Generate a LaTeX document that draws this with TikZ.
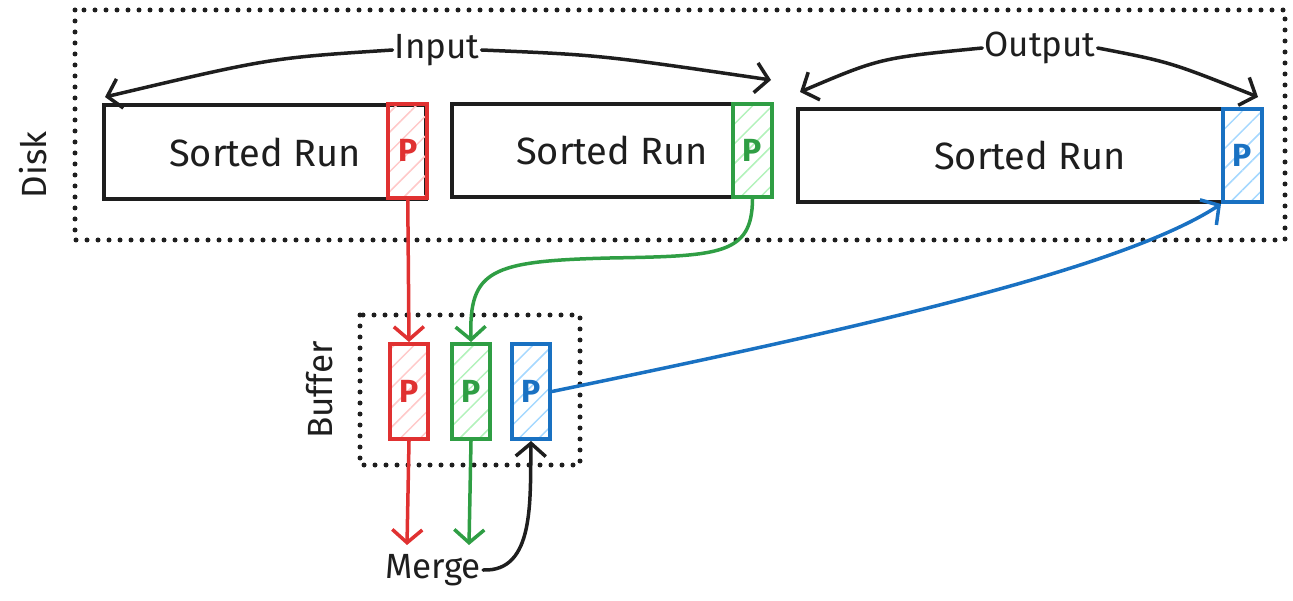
\documentclass[tikz,border=0pt]{standalone}
\usepackage{fontspec}
\setmainfont{Fira Sans}
\usetikzlibrary{arrows.meta, patterns.meta}

\definecolor{schwarz}{HTML}{1E1E1E}
\definecolor{rot}{HTML}{E03131}
\definecolor{rothell}{HTML}{FFC9C9}
\definecolor{gruen}{HTML}{2F9E44}
\definecolor{gruenhell}{HTML}{B2F2BB}
\definecolor{blau}{HTML}{1971C2}
\definecolor{blauhell}{HTML}{A5D8FF}

\tikzset{
	lauf/.style = {draw = schwarz, line width = 4pt, inner sep = 0pt, text = schwarz, font = \fontsize{38pt}{40pt}\selectfont},
	seite/.style 2 args = {draw = #1, line width = 4pt, inner sep = 0pt, minimum width = 39pt, minimum height = 94pt, text = #1, font = \fontsize{32pt}{34pt}\selectfont\bfseries, pattern = {Lines[angle = 45, distance = 14pt, line width = 1.5pt]}, pattern color = #2},
	pfeil/.style = {-{Straight Barb[length = 13pt, width = 30pt]}, line width = 3.5pt, line cap = round},
	rahmen/.style = {draw = schwarz, line width = 5pt, dash pattern = on 0pt off 11pt, line cap = round},
	beschriftung/.style = {text = schwarz, inner sep = 2pt, font = \fontsize{35pt}{38pt}\selectfont}
}

\begin{document}
\begin{tikzpicture}[yscale = -1]
	\useasboundingbox (0pt, 0pt) rectangle (1293pt, 601pt);

	% Platte:
	\draw [rahmen] (75pt, 10pt) rectangle (1285pt, 240pt);
	\node [beschriftung, rotate = 90] (disk) at (33pt, 165pt) {Disk};

	\node [lauf, minimum width = 322pt, minimum height = 94pt, anchor = north west] (run1) at (102pt, 103pt) {Sorted Run};
	\node [lauf, minimum width = 320pt, minimum height = 93pt, anchor = north west] (run2) at (450pt, 102pt) {Sorted Run};
	\node [lauf, minimum width = 464pt, minimum height = 93pt, anchor = north west] (run3) at (796pt, 107pt) {Sorted Run};

	\node [seite = {rot}{rothell}, anchor = north east] (page1) at (run1.north east) {P};
	\node [seite = {gruen}{gruenhell}, minimum height = 93pt, anchor = north east] (page2) at (run2.north east) {P};
	\node [seite = {blau}{blauhell}, minimum height = 93pt, anchor = north east] (page3) at (run3.north east) {P};

	% Eingabe und Ausgabe:
	\node [beschriftung] (input) at (437pt, 50pt) {Input};
	\node [beschriftung] (output) at (1040pt, 48pt) {Output};
	\coordinate (inL) at (105pt, 97pt);
	\coordinate (inR) at (771pt, 80pt);
	\coordinate (outL) at (800pt, 92pt);
	\coordinate (outR) at (1258pt, 97pt);
	\begin{scope}[pfeil, schwarz]
		\draw (input.west) .. controls (270pt, 58pt) .. (inL);
		\draw (input.east) .. controls (600pt, 55pt) .. (inR);
		\draw (output.west) .. controls (880pt, 58pt) .. (outL);
		\draw (output.east) .. controls (1170pt, 62pt) .. (outR);
	\end{scope}

	% Puffer:
	\draw [rahmen] (360pt, 315pt) rectangle (580pt, 465pt);
	\node [beschriftung, rotate = 90] (buffer) at (320pt, 390pt) {Buffer};
	\foreach \name/\x/\farbe in {buf1/388pt/rot, buf2/450pt/gruen, buf3/510pt/blau} {
		\node [seite = {\farbe}{\farbe hell}, minimum width = 38pt, minimum height = 95pt, anchor = north west] (\name) at (\x, 342pt) {P};
	}

	% Verbindungen:
	\draw [pfeil, rot] (page1.south) -- (buf1.north);
	\draw [pfeil, gruen] (page2.south) .. controls (752pt, 255pt) and (720pt, 256pt) .. (610pt, 258pt) .. controls (490pt, 261pt) and (469pt, 270pt) .. (buf2.north);
	\draw [pfeil, blau] (buf3.east) .. controls (850pt, 330pt) and (1120pt, 270pt) .. (page3.south west);

	% Zusammenfuehren:
	\node [beschriftung] (merge) at (433pt, 570pt) {Merge};
	\coordinate (mergeL) at (407pt, 545pt);
	\coordinate (mergeM) at (469pt, 545pt);
	\draw [pfeil, rot] (buf1.south) -- (mergeL);
	\draw [pfeil, gruen] (buf2.south) -- (mergeM);
	\draw [pfeil, schwarz] (merge.east) .. controls (535pt, 572pt) and (530pt, 500pt) .. (buf3.south);
\end{tikzpicture}
\end{document}
